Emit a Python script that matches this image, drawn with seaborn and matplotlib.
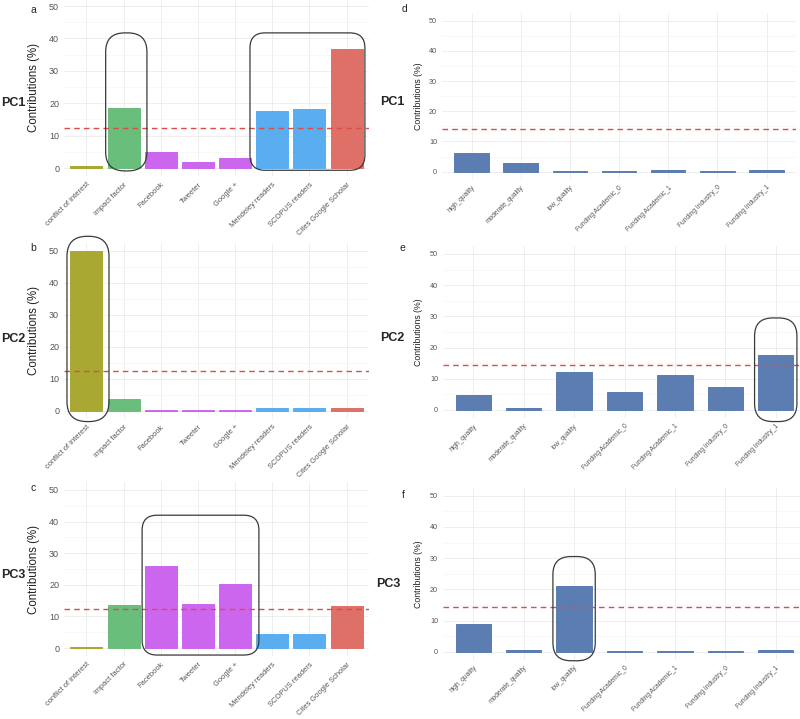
import matplotlib
matplotlib.use("Agg")
import matplotlib.pyplot as plt
from matplotlib.patches import FancyBboxPatch
from matplotlib.ticker import MultipleLocator
import seaborn as sns

sns.set_style("white")
plt.rcParams["font.family"] = ["Liberation Sans", "DejaVu Sans"]

# ── Data ───────────────────────────────────────────────────────
metric_cats = ["conflict of interest", "impact factor", "Facebook", "Tweeter",
               "Google +", "Mendeley readers", "SCOPUS readers",
               "Cites Google Scholar"]
metric_colors = ["#A8A832", "#6ABE7C", "#CC66EE", "#CC66EE", "#CC66EE",
                 "#5AAEF0", "#5AAEF0", "#DE7068"]
metric_pc1 = [0.7, 18.4, 5.0, 1.8, 3.0, 17.6, 18.1, 36.8]
metric_pc2 = [49.8, 3.8, 0.3, 0.2, 0.2, 0.9, 0.9, 0.9]
metric_pc3 = [0.5, 13.6, 25.8, 14.0, 20.3, 4.3, 4.6, 13.3]

quality_cats = ["high_quality", "moderate_quality", "low_quality",
                "Funding Academic_0", "Funding Academic_1",
                "Funding Industry_0", "Funding Industry_1"]
quality_pc1 = [6.2, 2.8, 0.2, 0.3, 0.5, 0.3, 0.6]
quality_pc2 = [4.7, 0.6, 12.3, 5.7, 11.1, 7.3, 17.6]
quality_pc3 = [8.8, 0.6, 21.2, 0.1, 0.1, 0.2, 0.5]

# highlighted groups: panel, first cat, last cat, top, bottom, pads, radius(px)
highlights = [
    ("a", "impact factor", "impact factor", 41.7, -0.9, 0.48, 0.63, 19),
    ("a", "Mendeley readers", "Cites Google Scholar", 41.7, -0.7, 0.60, 0.49, 15),
    ("b", "conflict of interest", "conflict of interest", 54.5, -3.4, 0.52, 0.61, 20),
    ("c", "Facebook", "Google +", 42.0, -2.2, 0.50, 0.64, 15),
    ("e", "Funding Industry_1", "Funding Industry_1", 29.5, -3.7, 0.42, 0.42, 18),
    ("f", "low_quality", "low_quality", 30.5, -2.9, 0.42, 0.42, 18),
]

W, H = 800, 719
fig = plt.figure(figsize=(W / 100, H / 100), dpi=100)

# axes boxes in pixels: left, top, right, bottom
boxes = {
    "a": (64, -2.1, 369, 176.1),
    "b": (64, 242.7, 369, 418.7),
    "c": (64, 482.0, 369, 656.0),
    "d": (442, 13.2, 796, 179.2),
    "e": (443, 246.2, 806, 417.8),
    "f": (443, 487.9, 806, 659.5),
}

panels = [
    ("a", metric_cats, metric_pc1, metric_colors),
    ("b", metric_cats, metric_pc2, metric_colors),
    ("c", metric_cats, metric_pc3, metric_colors),
    ("d", quality_cats, quality_pc1, None),
    ("e", quality_cats, quality_pc2, None),
    ("f", quality_cats, quality_pc3, None),
]

axes = {}
for key, cats, vals, colors in panels:
    l, t, r, b = boxes[key]
    ax = fig.add_axes([l / W, 1 - b / H, (r - l) / W, (b - t) / H])
    axes[key] = ax
    left = colors is not None
    if left:
        sns.barplot(x=cats, y=vals, hue=cats, order=cats, hue_order=cats,
                    palette=colors, legend=False, width=0.86, saturation=1,
                    ax=ax)
    else:
        sns.barplot(x=cats, y=vals, order=cats, color="#5B7DB1", width=0.70,
                    saturation=1, ax=ax)
    # thin outline in the bar colour so near-zero bars stay visible
    for p in ax.patches:
        p.set_edgecolor(p.get_facecolor())
        p.set_linewidth(0.7)

    n = len(cats)
    ax.set_xlim(-0.6, n - 0.4)
    ax.set_ylim(-2.5, 52.5)
    ax.yaxis.set_major_locator(MultipleLocator(10))
    ax.yaxis.set_minor_locator(MultipleLocator(5))
    ax.set_yticks(range(0, 51, 10))
    ax.grid(which="major", color="#EBEBEB", lw=0.6)
    ax.grid(which="minor", axis="y", color="#F3F3F3", lw=0.4)
    ax.set_axisbelow(True)
    for s in ax.spines.values():
        s.set_visible(False)

    # expected average contribution
    ax.axhline(100 / n, color="#DD4B4B", lw=1.0, ls=(0, (4, 3)), zorder=3)

    tick_fs = 6.5 if left else 5.2
    xl_fs = 5.4 if left else 4.8
    ax.tick_params(axis="both", which="major", length=2, width=0.6,
                   color="#444444", labelcolor="#555555", pad=1.5)
    ax.tick_params(axis="y", which="minor", length=0)
    ax.tick_params(axis="y", labelsize=tick_fs)
    ax.set_xticks(range(n))
    ax.set_xticklabels(cats, rotation=45, ha="right", rotation_mode="anchor",
                       fontsize=xl_fs, color="#555555")
    ax.set_xlabel("")
    ax.set_ylabel("Contributions (%)", fontsize=8.3 if left else 6.3,
                  color="#222222")
    ax.yaxis.set_label_coords(-0.079 if left else -0.055, 0.5)

# ── Highlight boxes ────────────────────────────────────────────
for key, first, last, top, bottom, lpad, rpad, rad in highlights:
    ax = axes[key]
    cats = metric_cats if key in "abc" else quality_cats
    l, t, r, b = boxes[key]
    x0 = cats.index(first) - lpad
    x1 = cats.index(last) + rpad
    xr = ax.get_xlim()
    pxx = (r - l) / (xr[1] - xr[0])
    pxy = (b - t) / 55.0
    patch = FancyBboxPatch((x0, bottom), x1 - x0, top - bottom,
                           boxstyle=f"round,pad=0,rounding_size={rad / pxx}",
                           mutation_aspect=pxx / pxy, fc="none",
                           ec="#3A3A3A", lw=0.9, clip_on=False, zorder=4)
    ax.add_patch(patch)

# ── Panel letters and PC labels ────────────────────────────────
letters = [("a", 33, 10), ("b", 33, 248), ("c", 33, 488),
           ("d", 404, 9), ("e", 402, 248), ("f", 403, 495)]
for txt, x, y in letters:
    fig.text(x / W, 1 - y / H, txt, fontsize=7.5, ha="center", va="center")

pc_labels = [("PC1", 13, 103), ("PC2", 13, 339), ("PC3", 13, 575),
             ("PC1", 392, 102), ("PC2", 392, 338), ("PC3", 388, 584)]
for txt, x, y in pc_labels:
    fig.text(x / W, 1 - y / H, txt, fontsize=9, fontweight="bold",
             ha="center", va="center")

plt.savefig("out.png", dpi=100)
plt.close()
